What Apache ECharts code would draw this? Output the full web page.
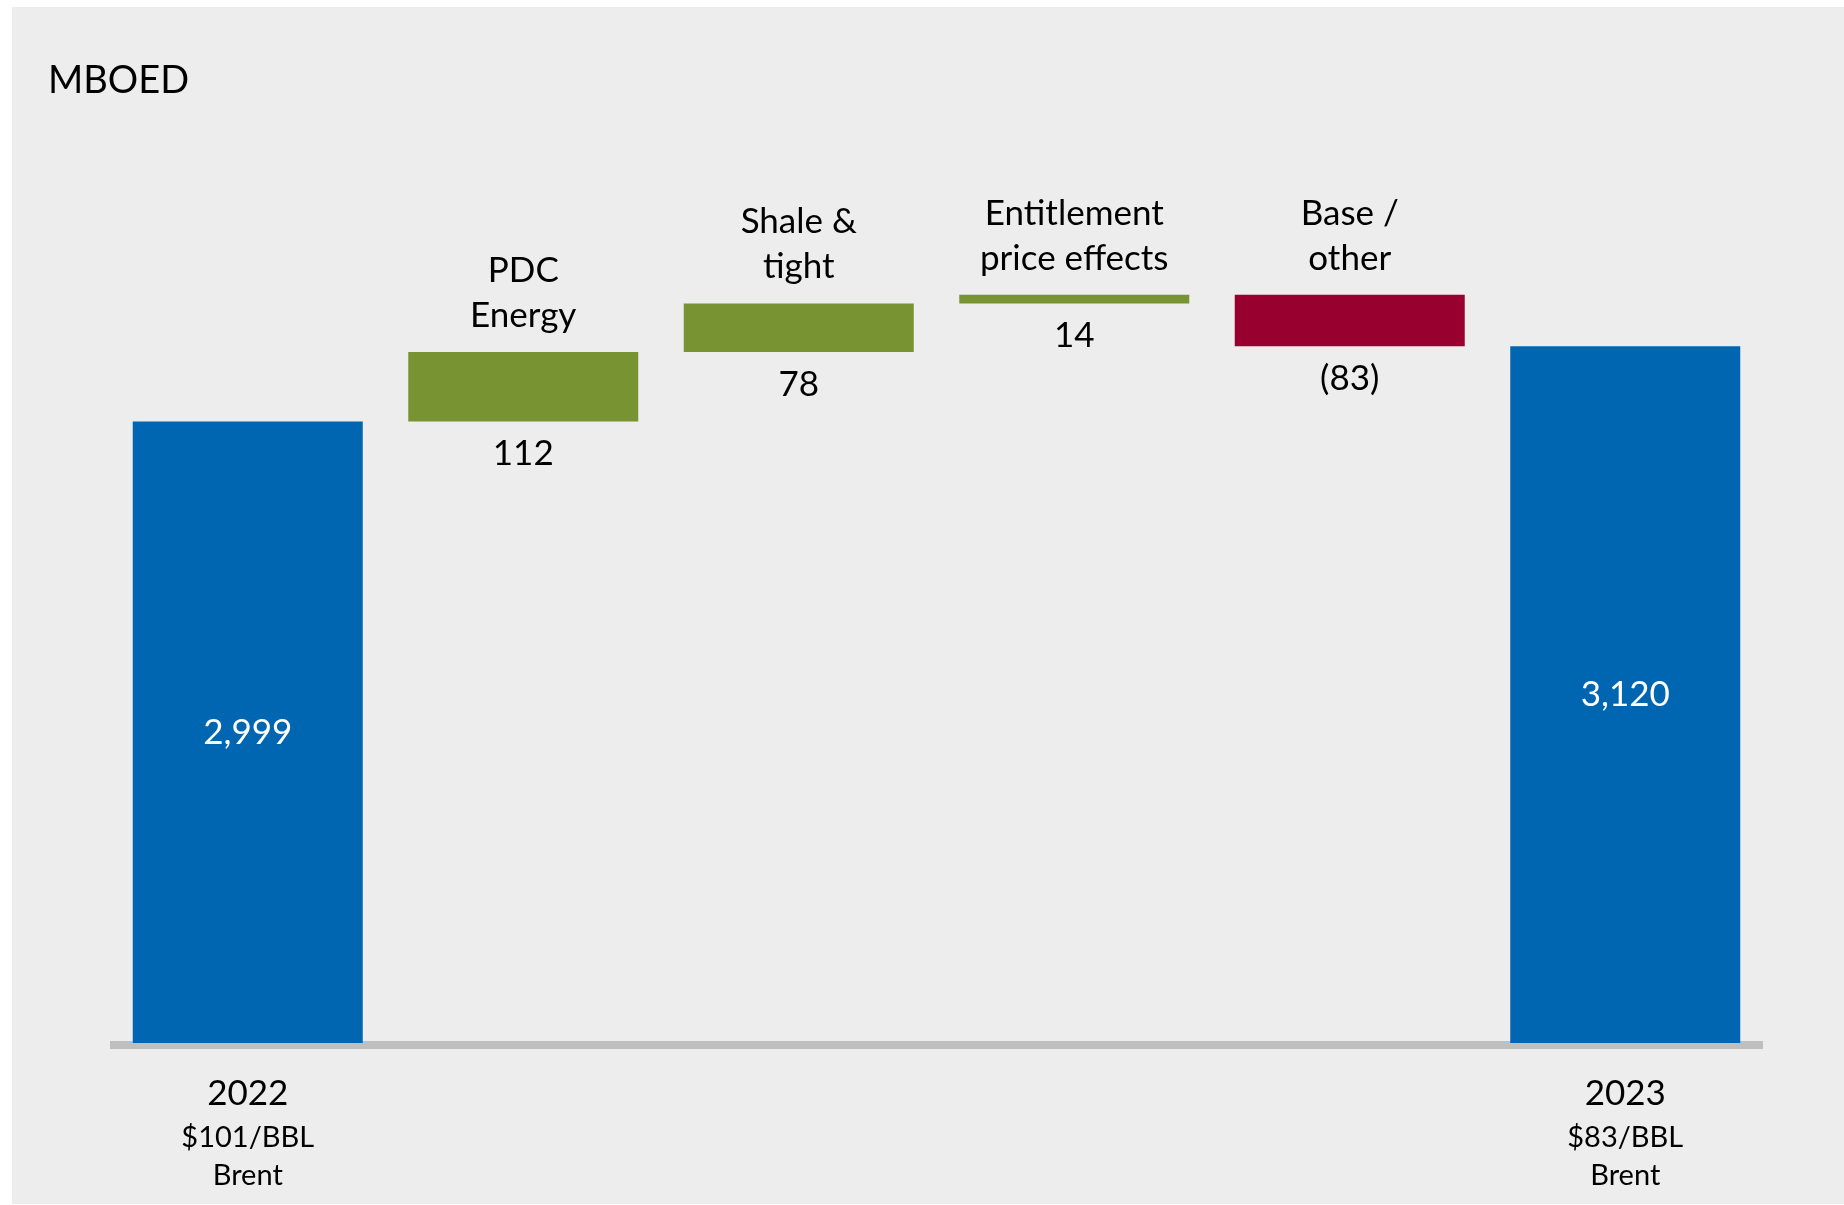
<!DOCTYPE html>
<html>
<head>
<meta charset="utf-8">
<title>MBOED production bridge 2022–2023</title>
<script src="https://cdn.jsdelivr.net/npm/echarts@6/dist/echarts.min.js"></script>
<style>
  html, body { margin: 0; padding: 0; background: #ffffff; }
  #panel { position: absolute; left: 12px; top: 7px; width: 1832px; height: 1197px; background: #ededed; }
  #chart { width: 100%; height: 100%; }
</style>
</head>
<body>
<div id="panel"><div id="chart"></div></div>
<script>
// Production bridge, thousand barrels of oil equivalent per day
const categories = ['2022', 'PDC\nEnergy', 'Shale &\ntight', 'Entitlement\nprice effects', 'Base /\nother', '2023'];
const totalSubLabels = ['$101/BBL\nBrent', '', '', '', '', '$83/BBL\nBrent'];
const startTotal = 2999;
const changes = [112, 78, 14, -83];
const endTotal = 3120;

const BLUE = '#0066b2';
const GREEN = '#789332';
const RED = '#97002f';

// Build the floating waterfall segments from the totals and changes
const baseValues = [0];
const barValues = [startTotal];
const barColors = [BLUE];
const topValues = [null];
let running = startTotal;
changes.forEach(function (c) {
  const next = running + c;
  baseValues.push(Math.min(running, next));
  barValues.push(Math.abs(c));
  barColors.push(c >= 0 ? GREEN : RED);
  topValues.push(Math.max(running, next));
  running = next;
});
baseValues.push(0);
barValues.push(endTotal);
barColors.push(BLUE);
topValues.push(null);

const signedValues = [startTotal].concat(changes, [endTotal]);
function fmtValue(v) {
  const s = Math.abs(v).toLocaleString('en-US');
  return v < 0 ? '(' + s + ')' : s;
}

const FONT = 'Lato';
const TEXT = '#000000';
const lastIdx = categories.length - 1;

const chart = echarts.init(document.getElementById('chart'), null, { renderer: 'canvas' });
chart.setOption({
  animation: false,
  backgroundColor: 'transparent',
  title: {
    text: 'MBOED',
    left: 31,
    top: 50,
    textStyle: { fontFamily: FONT, fontSize: 38, fontWeight: 'normal', color: TEXT }
  },
  grid: { left: 98, right: 81, top: 103, bottom: 161, containLabel: false },
  xAxis: {
    type: 'category',
    data: categories,
    offset: 2,
    axisLine: { show: true, lineStyle: { color: '#bfbfbf', width: 8, cap: 'butt' } },
    axisTick: { show: false },
    axisLabel: {
      interval: 0,
      margin: 24,
      color: TEXT,
      fontFamily: FONT,
      formatter: function (value, idx) {
        if (idx !== 0 && idx !== lastIdx) return '';
        const sub = totalSubLabels[idx].split('\n').map(function (t) { return '{sub|' + t + '}'; }).join('\n');
        return '{yr|' + value + '}\n' + sub;
      },
      rich: {
        yr: { fontFamily: FONT, fontSize: 35, lineHeight: 50, color: TEXT },
        sub: { fontFamily: FONT, fontSize: 29, lineHeight: 38, color: TEXT }
      }
    }
  },
  yAxis: {
    type: 'value',
    min: 2000,
    max: 3500,
    show: false,
    splitLine: { show: false }
  },
  series: [
    {
      name: 'offset',
      type: 'bar',
      stack: 'bridge',
      barWidth: 230,
      silent: true,
      itemStyle: { color: 'transparent' },
      data: baseValues
    },
    {
      name: 'value',
      type: 'bar',
      stack: 'bridge',
      barWidth: 230,
      data: barValues.map(function (v, i) {
        const isTotal = (i === 0 || i === lastIdx);
        return {
          value: v,
          itemStyle: { color: barColors[i] },
          label: isTotal
            ? { show: true, position: 'inside', color: '#ffffff', fontFamily: FONT, fontSize: 35 }
            : { show: true, position: 'bottom', distance: 15, color: TEXT, fontFamily: FONT, fontSize: 35 }
        };
      }),
      label: {
        formatter: function (p) { return fmtValue(signedValues[p.dataIndex]); }
      }
    },
    {
      name: 'names',
      type: 'scatter',
      symbolSize: 0,
      silent: true,
      itemStyle: { opacity: 1 },
      data: topValues.map(function (v, i) { return v === null ? null : [i, v]; }).filter(Boolean),
      label: {
        show: true,
        position: 'top',
        distance: 14,
        color: TEXT,
        fontFamily: FONT,
        fontSize: 35,
        lineHeight: 45,
        align: 'center',
        formatter: function (p) { return categories[p.data[0]]; }
      }
    }
  ]
});
</script>
</body>
</html>
